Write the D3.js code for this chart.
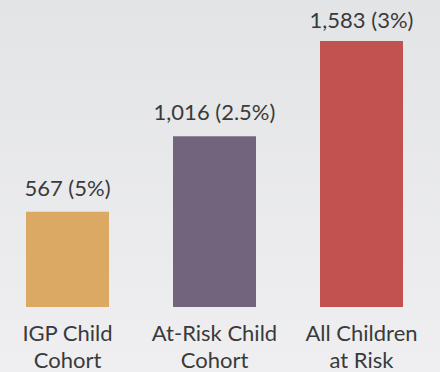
<!DOCTYPE html>
<html>
<head>
<meta charset="utf-8">
<script src="https://cdn.jsdelivr.net/npm/d3@7"></script>
<style>
  html, body { margin: 0; padding: 0; }
  body { width: 440px; height: 372px; overflow: hidden; }
  svg { display: block; }
</style>
</head>
<body>
<svg id="chart" width="440" height="372"></svg>
<script>
// Cohort sizes with their share in parentheses
const categories = [["IGP Child", "Cohort"], ["At-Risk Child", "Cohort"], ["All Children", "at Risk"]];
const counts = [567, 1016, 1583];
const shares = ["5%", "2.5%", "3%"];
const colors = ["#dba963", "#72647d", "#c15250"];

const W = 440, H = 372;
const svg = d3.select("#chart");

// soft vertical background gradient
const defs = svg.append("defs");
const grad = defs.append("linearGradient").attr("id", "bg").attr("x1", 0).attr("y1", 0).attr("x2", 0).attr("y2", 1);
grad.append("stop").attr("offset", "0%").attr("stop-color", "#e3e4e6");
grad.append("stop").attr("offset", "100%").attr("stop-color", "#efeff1");
svg.append("rect").attr("width", W).attr("height", H).attr("fill", "url(#bg)");

const baseY = 307;
const x = d3.scaleBand()
  .domain(d3.range(counts.length))
  .range([26, 403])
  .paddingInner(0.4354)
  .paddingOuter(0);

const y = d3.scaleLinear()
  .domain([0, 1583])
  .range([baseY, 41]);

const font = "Lato, 'Open Sans', sans-serif";
const textColor = "#3a3a3a";

svg.append("g").selectAll("rect")
  .data(counts)
  .join("rect")
  .attr("x", (d, i) => x(i))
  .attr("y", d => y(d))
  .attr("width", x.bandwidth())
  .attr("height", d => baseY - y(d))
  .attr("fill", (d, i) => colors[i]);

const fmt = d3.format(",");
svg.append("g").selectAll("text")
  .data(counts)
  .join("text")
  .attr("x", (d, i) => x(i) + x.bandwidth() / 2)
  .attr("y", d => Math.max(y(d) - 16, 28))
  .attr("text-anchor", "middle")
  .attr("font-family", font)
  .attr("font-size", 22)
  .attr("fill", textColor)
  .text((d, i) => `${fmt(d)} (${shares[i]})`);

const labels = svg.append("g").selectAll("text")
  .data(categories)
  .join("text")
  .attr("x", (d, i) => x(i) + x.bandwidth() / 2)
  .attr("y", 341)
  .attr("text-anchor", "middle")
  .attr("font-family", font)
  .attr("font-size", 22)
  .attr("fill", textColor);
labels.selectAll("tspan")
  .data(d => d)
  .join("tspan")
  .attr("x", function () { return this.parentNode.getAttribute("x"); })
  .attr("dy", (d, j) => j === 0 ? 0 : 27)
  .text(d => d);
</script>
</body>
</html>
